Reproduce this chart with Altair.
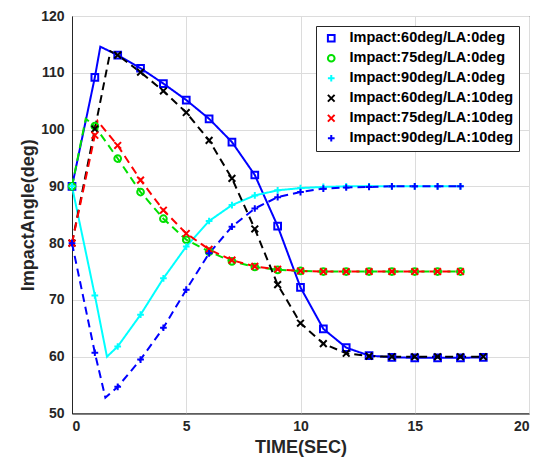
import altair as alt
import pandas as pd

# ---- data ----
names = [
    "Impact:60deg/LA:0deg",
    "Impact:75deg/LA:0deg",
    "Impact:90deg/LA:0deg",
    "Impact:60deg/LA:10deg",
    "Impact:75deg/LA:10deg",
    "Impact:90deg/LA:10deg",
]
curve_ids = ["c0", "c1", "c2", "c3", "c4", "c5"]
colors = ["#0000FF", "#00E000", "#00FFFF", "#000000", "#FF0000", "#0000FF"]

# values sampled at t = 0, 1, 2, ...
blue60_0 = [90, 109.2, 113.1, 110.8, 108.1, 105.2, 101.9, 97.8, 92.0, 83.0,
            72.2, 64.9, 61.6, 60.2, 59.9, 59.8, 59.8, 59.8, 59.9]
green75_0 = [90, 100.6, 94.9, 89.0, 84.3, 80.6, 78.5, 76.8, 75.8, 75.3,
             75.1, 75.0, 75.0, 75.0, 75.0, 75.0, 75.0, 75.0]
cyan90_0 = [90, 70.8, 61.8, 67.4, 73.8, 79.4, 83.9, 86.7, 88.4, 89.3,
            89.7, 89.9, 90.0, 90.0, 90.0, 90.0, 90.0, 90.0]
black60_10 = [80, 100.1, 113.1, 110.1, 106.8, 103.0, 98.1, 91.4, 82.5, 72.7,
              65.9, 62.3, 60.6, 60.1, 60.0, 60.0, 60.0, 60.0, 60.0]
red75_10 = [80, 99.0, 97.2, 91.1, 85.8, 81.7, 78.9, 77.0, 75.9, 75.4,
            75.1, 75.0, 75.0, 75.0, 75.0, 75.0, 75.0, 75.0]
blue90_10 = [80, 60.7, 54.7, 59.5, 65.1, 71.8, 78.2, 82.9, 86.1, 88.1,
             89.0, 89.6, 89.8, 89.9, 90.0, 90.0, 90.0, 90.0]

# turning points of each curve (time, value)
turn_t = [1.24, 0.6, 1.53, 1.68, 1.12, 1.46]
turn_v = [114.6, 101.9, 60.0, 113.8, 101.5, 52.8]

series_vals = [blue60_0, green75_0, cyan90_0, black60_10, red75_10, blue90_10]

line_rows, pt_rows = [], []
for s, cid, vals, tt, tv in zip(names, curve_ids, series_vals, turn_t, turn_v):
    pts = [(float(i), v) for i, v in enumerate(vals)]
    for t, v in pts:
        pt_rows.append({"series": s, "t": t, "v": v})
    allp = sorted(pts + [(tt, tv)])
    for k, (t, v) in enumerate(allp):
        line_rows.append({"curve": cid, "t": t, "v": v, "idx": k})

lines_df = pd.DataFrame(line_rows)
pts_df = pd.DataFrame(pt_rows)

dashes = [[1, 0], [8, 5], [1, 0], [8, 5], [8, 5], [8, 5]]
shapes = ["square", "circle", "M-1,0L1,0M0,-1L0,1",
          "M-1,-1L1,1M-1,1L1,-1", "M-1,-1L1,1M-1,1L1,-1", "M-1,0L1,0M0,-1L0,1"]

FONT = "Liberation Sans"

xenc = alt.X("t:Q", scale=alt.Scale(domain=[0, 20], nice=False),
             axis=alt.Axis(values=[0, 5, 10, 15, 20], title="TIME(SEC)"))
yenc = alt.Y("v:Q", scale=alt.Scale(domain=[50, 120], nice=False, zero=False),
             axis=alt.Axis(values=[50, 60, 70, 80, 90, 100, 110, 120],
                           title="ImpactAngle(deg)"))

lines = alt.Chart(lines_df).mark_line(strokeWidth=2).encode(
    x=xenc, y=yenc,
    stroke=alt.Stroke("curve:N", scale=alt.Scale(domain=curve_ids, range=colors), legend=None),
    strokeDash=alt.StrokeDash("curve:N", scale=alt.Scale(domain=curve_ids, range=dashes), legend=None),
    order="idx:Q",
)

points = alt.Chart(pts_df).mark_point(filled=False, strokeWidth=2, size=45, opacity=1).encode(
    x=xenc, y=yenc,
    color=alt.Color("series:N", scale=alt.Scale(domain=names, range=colors), title=None),
    shape=alt.Shape("series:N", scale=alt.Scale(domain=names, range=shapes), title=None),
)

chart = alt.layer(lines, points).properties(
    width=457, height=397.5,
    autosize=alt.AutoSizeParams(type="none"),
    padding={"left": 64, "top": 8, "right": 13, "bottom": 50},
).configure_view(
    stroke="#262626", strokeWidth=1
).configure_axis(
    grid=True, gridColor="#dcdcdc", gridWidth=1,
    domainColor="#262626", domainWidth=1,
    ticks=False,
    labelFont=FONT, labelFontWeight="bold", labelFontSize=14, labelColor="#262626",
    titleFont=FONT, titleFontWeight="bold", titleFontSize=18, titleColor="#262626",
).configure_axisX(
    labelPadding=6, titlePadding=5,
).configure_axisY(
    labelPadding=8, titlePadding=3,
).configure_legend(
    orient="top-right", offset=10,
    strokeColor="#262626", fillColor="white", padding=5,
    labelFont=FONT, labelFontWeight="bold", labelFontSize=14.5, labelColor="black",
    labelLimit=400,
    symbolStrokeWidth=2, symbolSize=45, rowPadding=4, labelOffset=11,
    symbolOffset=3,
)

chart.save("out.html", embed_options={"renderer": "svg", "actions": False})
